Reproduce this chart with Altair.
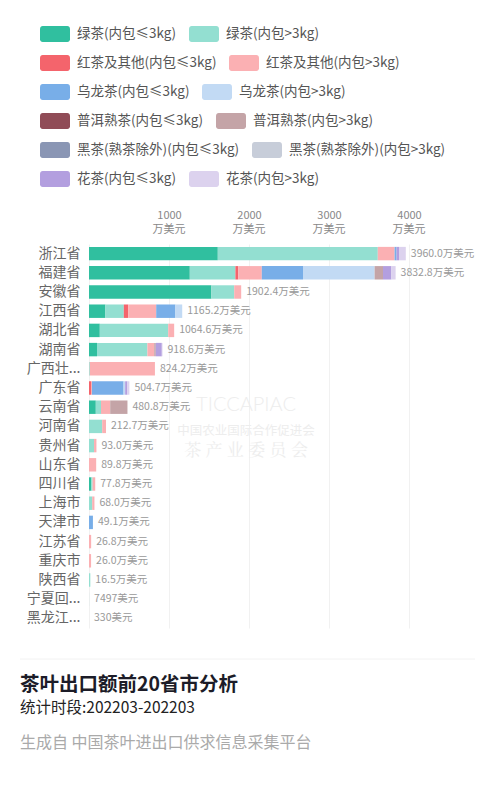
import altair as alt
import pandas as pd

provinces = ["浙江省", "福建省", "安徽省", "江西省", "湖北省", "湖南省", "广西壮族自治区",
             "广东省", "云南省", "河南省", "贵州省", "山东省", "四川省", "上海市", "天津市",
             "江苏省", "重庆市", "陕西省", "宁夏回族自治区", "黑龙江省"]

categories = ["绿茶(内包≤3kg)", "绿茶(内包>3kg)", "红茶及其他(内包≤3kg)", "红茶及其他(内包>3kg)",
              "乌龙茶(内包≤3kg)", "乌龙茶(内包>3kg)", "普洱熟茶(内包≤3kg)", "普洱熟茶(内包>3kg)",
              "黑茶(熟茶除外)(内包≤3kg)", "黑茶(熟茶除外)(内包>3kg)", "花茶(内包≤3kg)", "花茶(内包>3kg)"]

colors = ["#30bf9f", "#93dfd1", "#f4646c", "#fbb0b3", "#78aee8", "#c2daf4",
          "#904c57", "#c4a4a7", "#8a96b4", "#c7cdd9", "#b39fdf", "#dcd2ee"]

# values in 万美元, one list per category, in province order
green_le3 = [1610, 1260, 1530, 205, 135, 100, 0, 0, 85, 0, 0, 0, 30, 0, 0, 0, 0, 0, 0, 0]
green_gt3 = [2000, 570, 285, 230, 855, 630, 10, 0, 65, 165, 63, 0, 15, 40, 0, 0, 0, 16.5, 0.7497, 0.033]
red_le3 = [0, 35, 0, 55, 0, 0, 0, 25, 0, 0, 0, 0, 0, 0, 0, 0, 0, 0, 0, 0]
red_gt3 = [210, 295, 87.4, 350, 74.6, 85, 814.2, 12, 115, 47.7, 30, 89.8, 32.8, 28, 0, 26.8, 26.0, 0, 0, 0]
oolong_le3 = [25, 515, 0, 240, 0, 0, 0, 395, 0, 0, 0, 0, 0, 0, 49.1, 0, 0, 0, 0, 0]
oolong_gt3 = [0, 895, 0, 85.2, 0, 0, 0, 20, 0, 0, 0, 0, 0, 0, 0, 0, 0, 0, 0, 0]
puer_le3 = [0] * 20
puer_gt3 = [0, 105, 0, 0, 0, 20, 0, 0, 215.8, 0, 0, 0, 0, 0, 0, 0, 0, 0, 0, 0]
dark_le3 = [0] * 20
dark_gt3 = [0] * 20
flower_le3 = [30, 105, 0, 0, 0, 75, 0, 27.7, 0, 0, 0, 0, 0, 0, 0, 0, 0, 0, 0, 0]
flower_gt3 = [85, 52.8, 0, 0, 0, 8.6, 0, 25, 0, 0, 0, 0, 0, 0, 0, 0, 0, 0, 0, 0]

totals = [3960.0, 3832.8, 1902.4, 1165.2, 1064.6, 918.6, 824.2, 504.7, 480.8, 212.7,
          93.0, 89.8, 77.8, 68.0, 49.1, 26.8, 26.0, 16.5, 0.7497, 0.033]
total_labels = ["3960.0万美元", "3832.8万美元", "1902.4万美元", "1165.2万美元", "1064.6万美元",
                "918.6万美元", "824.2万美元", "504.7万美元", "480.8万美元", "212.7万美元",
                "93.0万美元", "89.8万美元", "77.8万美元", "68.0万美元", "49.1万美元",
                "26.8万美元", "26.0万美元", "16.5万美元", "7497美元", "330美元"]

tick_values = [0, 1000, 2000, 3000, 4000]
tick_unit = "万美元"

title_text = "茶叶出口额前20省市分析"
subtitle_text = "统计时段:202203-202203"
source_text = "生成自 中国茶叶进出口供求信息采集平台"
watermark = ["TICCAPIAC", "中国农业国际合作促进会", "茶 产 业 委 员 会"]

series = [green_le3, green_gt3, red_le3, red_gt3, oolong_le3, oolong_gt3,
          puer_le3, puer_gt3, dark_le3, dark_gt3, flower_le3, flower_gt3]

rows = []
for ci, (cat, vals) in enumerate(zip(categories, series)):
    for pi, p in enumerate(provinces):
        rows.append({"province": p, "category": cat, "value": vals[pi], "ord": ci})
df = pd.DataFrame(rows)
tot_df = pd.DataFrame({"province": provinces, "total": totals, "label": total_labels})
unit_df = pd.DataFrame({"v": [t for t in tick_values if t > 0], "u": tick_unit})

FONT = "Noto Sans CJK SC"
W, H = 360, 384

sym = ("M-0.82,-0.53H0.82A0.18,0.18 0 0 1 1,-0.35V0.35A0.18,0.18 0 0 1 0.82,0.53"
       "H-0.82A0.18,0.18 0 0 1 -1,0.35V-0.35A0.18,0.18 0 0 1 -0.82,-0.53Z")

x_axis = alt.Axis(orient="top", title=None, values=tick_values, format="d",
                  domain=False, ticks=False, grid=True, gridColor="#f1f1f1",
                  labelFontSize=11, labelColor="#888", labelPadding=24, labelFont=FONT,
                  labelExpr="datum.value == 0 ? '' : datum.label")
x_scale = alt.Scale(domain=[0, 4500], nice=False)

y_enc = alt.Y("province:N", sort=provinces,
              scale=alt.Scale(paddingInner=0.3, paddingOuter=0.15),
              axis=alt.Axis(title=None, domain=False, ticks=False, labelPadding=9,
                            labelFontSize=14, labelColor="#666", labelFont=FONT,
                            labelExpr="length(datum.label) > 3 ? substring(datum.label, 0, 3) + '...' : datum.label"))

stacked = alt.Chart(df).transform_stack(
    stack="value", groupby=["province"], as_=["x0", "x1"],
    sort=[alt.SortField("ord", order="ascending")],
)

bar_layers = []
for r in range(6):
    pair = categories[2 * r: 2 * r + 2]
    pair_colors = colors[2 * r: 2 * r + 2]
    layer = stacked.transform_filter(
        (alt.datum.ord >= 2 * r) & (alt.datum.ord <= 2 * r + 1) & (alt.datum.value > 0)
    ).mark_bar(strokeWidth=0).encode(
        x=alt.X("x0:Q", scale=x_scale, axis=x_axis),
        x2="x1:Q",
        y=y_enc,
        color=alt.Color("category:N", scale=alt.Scale(domain=pair, range=pair_colors),
                        legend=alt.Legend(title=None, orient="none", legendX=-49,
                                          legendY=-225 + 29 * r,
                                          direction="horizontal", columns=2,
                                          symbolType=sym, symbolSize=900,
                                          symbolStrokeWidth=0, symbolOpacity=1,
                                          labelFontSize=13.5, labelColor="#555",
                                          labelFont=FONT, labelOffset=7,
                                          columnPadding=12, labelLimit=400, padding=0)),
    )
    bar_layers.append(layer)

labels = alt.Chart(tot_df).mark_text(align="left", baseline="middle", dx=5,
                                     fontSize=10.5, color="#999", font=FONT).encode(
    x=alt.X("total:Q", scale=x_scale, axis=x_axis),
    y=alt.Y("province:N", sort=provinces),
    text="label:N",
)

units = alt.Chart(unit_df).mark_text(align="center", baseline="middle", fontSize=11,
                                     color="#888", font=FONT).encode(
    x=alt.X("v:Q", scale=x_scale, axis=x_axis),
    y=alt.value(-14),
    text="u:N",
)

wm1 = alt.Chart(pd.DataFrame({"t": [watermark[0]]})).mark_text(
    fontSize=20, color="#ededed", font="Lato", fontWeight=300).encode(
    x=alt.value(157), y=alt.value(161), text="t:N")
wm2 = alt.Chart(pd.DataFrame({"t": [watermark[1]]})).mark_text(
    fontSize=12.5, color="#ededed", font=FONT).encode(
    x=alt.value(157), y=alt.value(187), text="t:N")
wm3 = alt.Chart(pd.DataFrame({"t": [watermark[2]]})).mark_text(
    fontSize=17, color="#ededed", font="Noto Serif CJK SC").encode(
    x=alt.value(157), y=alt.value(207), text="t:N")

sep = alt.Chart(pd.DataFrame({"a": [0]})).mark_rule(color="#f2f2f2", strokeWidth=1).encode(
    x=alt.value(-69), x2=alt.value(386), y=alt.value(415))

t1 = alt.Chart(pd.DataFrame({"t": [title_text]})).mark_text(
    align="left", baseline="middle", fontSize=19.5, fontWeight="bold", color="#1c1c28", font=FONT).encode(
    x=alt.value(-69), y=alt.value(441), text="t:N")
t2 = alt.Chart(pd.DataFrame({"t": [subtitle_text]})).mark_text(
    align="left", baseline="middle", fontSize=15.5, color="#222", font=FONT).encode(
    x=alt.value(-69), y=alt.value(464), text="t:N")
t3 = alt.Chart(pd.DataFrame({"t": [source_text]})).mark_text(
    align="left", baseline="middle", fontSize=16, color="#aaa", font=FONT).encode(
    x=alt.value(-69), y=alt.value(499), text="t:N")

chart = alt.layer(wm1, wm2, wm3, *bar_layers, labels, units, sep, t1, t2, t3).resolve_scale(
    color="independent"
).resolve_legend(color="independent").properties(
    width=W, height=H,
    autosize=alt.AutoSizeParams(type="none"),
    padding={"left": 81, "top": 236, "right": 38, "bottom": 164},
    background="white",
).configure(font=FONT).configure_view(strokeWidth=0, stroke="transparent")

chart.save("out.html", embed_options={"renderer": "svg", "actions": False})
